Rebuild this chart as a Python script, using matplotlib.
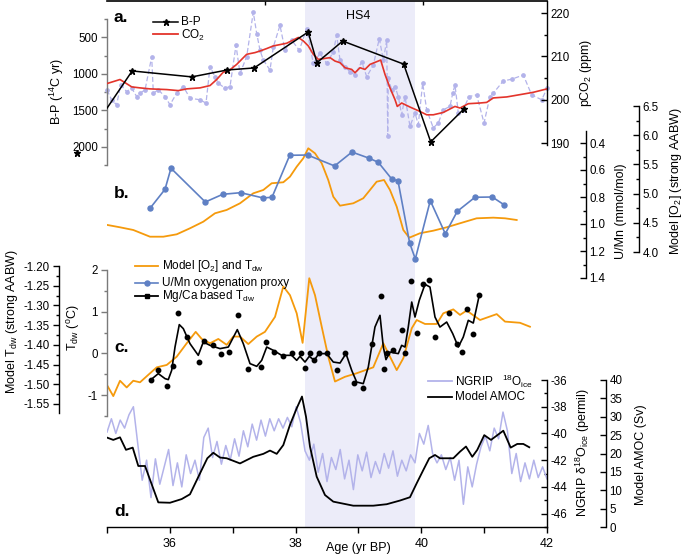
import matplotlib
matplotlib.use('Agg')
import matplotlib.pyplot as plt
from matplotlib.lines import Line2D

plt.rcParams['font.family'] = ['Liberation Sans', 'DejaVu Sans']
plt.rcParams['mathtext.fontset'] = 'custom'
plt.rcParams['mathtext.rm'] = 'Liberation Sans'
plt.rcParams['mathtext.it'] = 'Liberation Sans:italic'
plt.rcParams['mathtext.bf'] = 'Liberation Sans:bold'
plt.rcParams['axes.unicode_minus'] = False

# ---------------- data ----------------
# panel a: individual B-P measurements (light dashed), 14C yr
bp_raw_age = [35.0, 35.073, 35.153, 35.218, 35.313, 35.393, 35.472, 35.525, 35.605, 35.711, 35.737, 35.816,
              35.923, 36.002, 36.109, 36.214, 36.320, 36.480, 36.575, 36.639, 36.718, 36.771, 36.877, 36.957,
              37.052, 37.116, 37.222, 37.327, 37.382, 37.434, 37.487, 37.593, 37.646, 37.752, 37.832, 37.938,
              38.059, 38.177, 38.282, 38.388, 38.495, 38.600, 38.654, 38.707, 38.786, 38.866, 38.945, 39.052,
              39.132, 39.237, 39.332, 39.396, 39.450, 39.466, 39.475, 39.529, 39.582, 39.634, 39.688, 39.741,
              39.820, 39.900, 39.952, 40.022, 40.086, 40.191, 40.271, 40.350, 40.457, 40.500, 40.536, 40.589,
              40.668, 40.759, 40.881, 40.998, 41.093, 41.146, 41.305, 41.438, 41.623, 41.756, 41.916, 42.0]
bp_raw_val = [1221, 1357, 1425, 1153, 1244, 1198, 1312, 1266, 1221, 768, 1266, 1221,
              1312, 1425, 1266, 1176, 1334, 1357, 1402, 904, 1040, 1130, 1198, 1176,
              609, 994, 768, 156, 450, 677, 813, 949, 632, 337, 677, 541,
              677, 382, 858, 722, 858, 700, 473, 813, 904, 972, 1017, 836,
              1040, 881, 518, 813, 541, 1856, 1062, 1221, 1176, 1312, 1561, 1312,
              1720, 1538, 1697, 1130, 1493, 1742, 1674, 1493, 1448, 1266, 1153, 1538,
              1493, 1312, 1289, 1674, 1312, 1266, 1098, 1075, 1017, 1289, 1357, 1198]

# B-P (stars)
bp_age = [34.52, 35.40, 36.35, 36.91, 37.34, 38.20, 38.34, 38.75, 39.72, 40.15, 40.68]
bp_val = [2080, 963, 1044, 950, 922, 432, 850, 555, 870, 1930, 1480]

# CO2 (ppm)
co2_age = [35.0, 35.207, 35.393, 35.525, 35.684, 35.950, 36.134, 36.268, 36.480, 36.639, 36.745, 36.850,
           36.930, 37.063, 37.116, 37.222, 37.354, 37.434, 37.540, 37.646, 37.859, 38.043, 38.123, 38.202,
           38.282, 38.361, 38.548, 38.627, 38.707, 38.786, 38.893, 38.945, 39.025, 39.104, 39.184, 39.316,
           39.354, 39.423, 39.502, 39.582, 39.618, 39.688, 39.820, 39.979, 40.086, 40.191, 40.350, 40.536,
           40.616, 40.748, 40.934, 41.040, 41.146, 41.359, 41.570, 41.782, 42.0]
co2_val = [203.72, 204.65, 202.95, 202.72, 202.49, 202.33, 202.09, 202.49, 202.72, 203.26, 204.65, 206.35,
           206.58, 208.14, 208.91, 210.47, 210.86, 211.23, 211.79, 212.40, 213.02, 214.35, 213.56, 212.40,
           210.47, 209.30, 209.70, 208.91, 208.53, 207.37, 206.98, 206.21, 207.37, 206.98, 208.14, 208.91,
           209.14, 205.81, 202.72, 200.0, 198.44, 199.23, 198.30, 197.28, 196.51, 196.51, 197.05, 198.44,
           198.07, 199.07, 199.23, 199.37, 200.40, 200.63, 201.16, 201.70, 202.49]

# panel b: U/Mn (mmol/mol)
umn_age = [35.684, 35.923, 36.018, 36.564, 36.841, 37.127, 37.482, 37.625, 37.907, 38.191, 38.621, 38.897,
           39.172, 39.316, 39.534, 39.629, 39.815, 39.905, 40.143, 40.382, 40.573, 40.854, 41.130, 41.321]
umn_val = [0.884, 0.743, 0.587, 0.837, 0.780, 0.768, 0.807, 0.802, 0.491, 0.489, 0.570, 0.467,
           0.513, 0.543, 0.669, 0.679, 1.141, 1.259, 0.827, 1.072, 0.906, 0.802, 0.800, 0.859]

# model [O2] (strong AABW)
o2_age = [35.005, 35.207, 35.418, 35.684, 35.896, 36.109, 36.320, 36.532, 36.718, 36.904, 37.116, 37.327,
          37.487, 37.620, 37.805, 37.911, 38.018, 38.123, 38.202, 38.309, 38.416, 38.520, 38.600, 38.707,
          38.918, 39.077, 39.184, 39.290, 39.407, 39.502, 39.609, 39.714, 39.809, 39.979, 40.191, 40.404,
          40.616, 40.881, 41.146, 41.332, 41.518]
o2_val = [4.463, 4.423, 4.377, 4.262, 4.262, 4.303, 4.406, 4.519, 4.663, 4.720, 4.834, 5.005,
          5.062, 5.177, 5.194, 5.290, 5.461, 5.605, 5.776, 5.690, 5.519, 5.233, 4.947, 4.793,
          4.834, 4.920, 5.062, 5.204, 5.233, 5.062, 4.776, 4.377, 4.245, 4.321, 4.365, 4.423,
          4.492, 4.577, 4.588, 4.577, 4.548]

# panel c: model Tdw (strong AABW)
mt_age = [35.0, 35.10, 35.207, 35.313, 35.418, 35.525, 35.657, 35.791, 35.950, 36.109, 36.268, 36.411,
          36.507, 36.639, 36.771, 36.904, 37.009, 37.116, 37.248, 37.382, 37.513, 37.673, 37.805, 37.911,
          38.018, 38.112, 38.218, 38.309, 38.416, 38.520, 38.627, 38.786, 38.972, 39.236, 39.396, 39.502,
          39.609, 39.714, 39.848, 39.927, 40.059, 40.245, 40.350, 40.509, 40.616, 40.722, 40.934, 41.200,
          41.332, 41.570, 41.729]
mt_val = [-1.502, -1.530, -1.491, -1.508, -1.491, -1.495, -1.476, -1.457, -1.451, -1.430, -1.396, -1.367,
          -1.385, -1.396, -1.385, -1.400, -1.379, -1.379, -1.398, -1.379, -1.367, -1.329, -1.252, -1.274,
          -1.320, -1.395, -1.231, -1.274, -1.354, -1.430, -1.493, -1.481, -1.472, -1.457, -1.396, -1.430,
          -1.464, -1.434, -1.358, -1.337, -1.347, -1.347, -1.320, -1.310, -1.324, -1.313, -1.337, -1.322,
          -1.341, -1.344, -1.354]

# Mg/Ca based Tdw (points, degC)
mg_age = [35.700, 35.816, 35.950, 36.055, 36.134, 36.268, 36.468, 36.543, 36.682, 36.809, 36.946, 37.089,
          37.238, 37.450, 37.525, 37.657, 37.795, 37.938, 38.082, 38.150, 38.225, 38.298, 38.368, 38.505,
          38.654, 38.791, 38.929, 39.077, 39.221, 39.354, 39.407, 39.450, 39.555, 39.688, 39.741, 39.836,
          39.936, 40.032, 40.127, 40.218, 40.445, 40.573, 40.643, 40.732, 40.827, 40.923]
mg_val = [-0.648, -0.408, -0.792, -0.312, 0.977, 0.391, -0.216, 0.295, 0.192, -0.024, 0.031, 0.929,
          -0.367, -0.329, 0.271, 0.031, -0.065, 0.007, 0.007, -0.343, 0.007, -0.151, 0.007, 0.007,
          -0.391, 0.007, -0.713, -0.823, 0.216, 1.375, -0.377, 0.007, 0.072, 0.552, 0.007, 1.728,
          0.487, 1.656, 1.752, 0.391, 0.967, 0.216, 0.024, 1.063, 0.473, 1.399]

# Mg/Ca smoothed curve
mgs_age = [35.700, 35.816, 35.923, 35.975, 36.029, 36.082, 36.150, 36.214, 36.320, 36.452, 36.532, 36.639,
           36.798, 36.930, 37.073, 37.168, 37.275, 37.382, 37.461, 37.541, 37.646, 37.779, 37.938, 38.018,
           38.070, 38.150, 38.218, 38.298, 38.368, 38.495, 38.600, 38.707, 38.802, 38.893, 38.972, 39.077,
           39.157, 39.263, 39.343, 39.396, 39.438, 39.502, 39.634, 39.688, 39.741, 39.793, 39.848, 39.900,
           39.968, 40.059, 40.138, 40.218, 40.297, 40.404, 40.500, 40.589, 40.668, 40.748, 40.827, 40.923]
mgs_val = [-0.631, -0.487, -0.607, -0.631, -0.408, 0.151, 0.689, 0.593, 0.233, -0.048, 0.271, 0.192,
           0.113, 0.151, 0.569, 0.233, -0.247, -0.312, -0.168, 0.151, 0.072, -0.048, -0.048, -0.168,
           -0.072, -0.209, -0.072, -0.168, -0.007, -0.007, -0.209, -0.233, -0.007, -0.408, -0.689, -0.727,
           -0.329, 0.631, 0.912, 0.151, -0.151, 0.031, -0.007, 0.192, 0.151, 0.631, 1.231, 0.871,
           1.272, 1.656, 1.591, 0.871, 0.631, 0.751, 0.473, 0.151, 0.391, 0.792, 0.727, 1.399]

# panel d: NGRIP d18O (permil)
ng_age = [35.00, 35.07, 35.14, 35.21, 35.28, 35.35, 35.42, 35.49, 35.56, 35.63, 35.70, 35.77, 35.84, 35.91,
          35.98, 36.05, 36.12, 36.19, 36.26, 36.33, 36.40, 36.47, 36.54, 36.61, 36.68, 36.75, 36.82, 36.89,
          36.96, 37.03, 37.10, 37.17, 37.24, 37.31, 37.38, 37.45, 37.52, 37.59, 37.66, 37.73, 37.80, 37.87,
          37.94, 38.01, 38.08, 38.15, 38.22, 38.29, 38.36, 38.43, 38.50, 38.57, 38.64, 38.71, 38.78, 38.85,
          38.92, 38.99, 39.06, 39.13, 39.20, 39.27, 39.34, 39.41, 39.48, 39.55, 39.62, 39.69, 39.76, 39.83,
          39.90, 39.97, 40.04, 40.11, 40.18, 40.25, 40.32, 40.39, 40.46, 40.53, 40.60, 40.67, 40.74, 40.81,
          40.88, 40.95, 41.02, 41.09, 41.16, 41.23, 41.30, 41.37, 41.44, 41.51, 41.58, 41.65, 41.72, 41.79,
          41.86, 41.93, 42.00]
ng_val = [-39.9, -38.9, -40.0, -39.0, -39.6, -38.6, -38.0, -40.8, -43.5, -42.0, -44.8, -41.9, -43.8, -42.5,
          -41.2, -43.9, -42.2, -44.0, -41.6, -43.0, -42.0, -43.5, -40.3, -39.6, -41.8, -40.6, -42.3, -40.9,
          -42.0, -40.4, -41.7, -39.8, -41.0, -39.3, -40.5, -39.0, -40.2, -38.9, -39.8, -38.9, -39.6, -38.8,
          -39.5, -38.0, -39.2, -41.3, -42.0, -40.8, -42.9, -41.5, -43.6, -41.8, -42.7, -41.2, -43.4, -42.0,
          -44.2, -41.6, -42.8, -41.4, -43.3, -42.1, -43.0, -41.5, -42.6, -41.3, -43.2, -42.0, -42.8, -41.6,
          -42.2, -40.0, -40.8, -39.4, -41.5, -42.2, -41.6, -42.7, -41.8, -43.5, -42.0, -45.3, -42.5, -44.0,
          -42.3, -41.0, -40.2, -41.3, -39.6, -40.4, -38.4, -39.8, -43.0, -41.5, -43.6, -42.2, -43.4, -42.0,
          -43.3, -42.5, -43.4]

# Model AMOC (Sv)
amoc_age = [35.005, 35.10, 35.207, 35.302, 35.409, 35.498, 35.605, 35.816, 36.002, 36.188, 36.320, 36.480,
            36.596, 36.691, 36.798, 36.904, 37.116, 37.327, 37.487, 37.593, 37.700, 37.805, 37.911, 38.018,
            38.102, 38.166, 38.229, 38.336, 38.468, 38.600, 38.918, 39.236, 39.450, 39.661, 39.820, 39.927,
            40.032, 40.127, 40.218, 40.297, 40.509, 40.616, 40.711, 40.811, 40.891, 41.002, 41.109, 41.305,
            41.422, 41.527, 41.623, 41.718]
amoc_val = [24.3, 23.7, 24.4, 21.0, 21.6, 16.6, 16.6, 6.7, 6.6, 7.6, 8.9, 14.6,
            18.7, 20.2, 18.9, 18.7, 17.3, 19.1, 19.9, 20.8, 19.9, 22.3, 27.8, 32.3,
            35.5, 30.0, 21.9, 13.7, 8.7, 6.9, 5.8, 5.8, 6.2, 7.2, 8.1, 11.9,
            15.5, 18.7, 19.6, 18.7, 18.7, 20.5, 21.9, 19.1, 21.0, 25.0, 23.7, 26.2,
            21.6, 22.6, 22.6, 21.7]

hs4_span = (38.15, 39.9)
x_major = [36, 38, 40, 42]
x_minor = [35, 37, 39, 41]

# ---------------- colours ----------------
LAV = '#b3b3ea'
BAND = '#ececf9'
RED = '#e3342b'
ORANGE = '#f59a0c'
BLUE = '#5f80c4'
GREY = '#7a7a7a'

W, H = 685, 557
fig = plt.figure(figsize=(W / 100, H / 100), dpi=100)

X0, X1 = 107, 547


def fx(x):
    return x / W


def fy(y):
    return 1 - y / H


def add_ax(top, bottom):
    ax = fig.add_axes([fx(X0), fy(bottom), (X1 - X0) / W, (bottom - top) / H])
    ax.patch.set_alpha(0)
    ax.set_xlim(35, 42)
    for s in ax.spines.values():
        s.set_visible(False)
    ax.set_xticks([])
    ax.tick_params(axis='y', left=False, right=False, labelleft=False, labelright=False)
    return ax


def set_lim(ax, v1, p1, v2, p2, top, bottom):
    slope = (v2 - v1) / (p2 - p1)
    ax.set_ylim(v1 + (bottom - p1) * slope, v1 + (top - p1) * slope)


def spine(ax, side, pos, color, ticks, minor, fmt):
    sp = ax.spines[side]
    sp.set_visible(True)
    sp.set_color(color)
    sp.set_linewidth(1.0)
    sp.set_position(('axes', (pos - X0) / (X1 - X0)))
    if side == 'left':
        ax.yaxis.set_ticks_position('left')
        direction = 'out'
        ax.tick_params(axis='y', left=True, labelleft=True)
    else:
        ax.yaxis.set_ticks_position('right')
        direction = 'in'
        ax.tick_params(axis='y', right=True, labelright=True)
    ax.set_yticks(ticks)
    ax.set_yticklabels([fmt.format(t) for t in ticks])
    ax.set_yticks(minor, minor=True)
    ax.tick_params(axis='y', which='major', direction=direction, length=4, width=1.0,
                   color=color, labelsize=8.3, pad=2.5)
    ax.tick_params(axis='y', which='minor', direction=direction, length=2.5, width=1.0, color=color)


# ---------------- base axis (band + age axis) ----------------
base = fig.add_axes([fx(X0), fy(527), (X1 - X0) / W, 526 / H])
base.set_xlim(35, 42)
base.set_ylim(0, 1)
base.patch.set_alpha(0)
base.axvspan(*hs4_span, color=BAND, zorder=0, lw=0)
base.spines['left'].set_visible(False)
base.spines['right'].set_visible(False)
base.spines['top'].set_visible(False)
base.spines['bottom'].set_linewidth(1.0)
base.set_yticks([])
base.set_xticks(x_major)
base.set_xticklabels([str(v) for v in x_major])
base.set_xticks(x_minor, minor=True)
base.tick_params(axis='x', which='both', direction='out', length=4, width=1.0, labelsize=9, pad=4)
top = base.secondary_xaxis('top')
top.set_xticks([37.52, 40.02])
top.tick_params(direction='in', length=3, labeltop=False, width=1.0)
top.spines['top'].set_linewidth(1.2)
base.text(38.15 + (39.9 - 38.15) / 2 - 0.03, 0.972, 'HS4', ha='center', va='center', fontsize=9,
          transform=base.transData)

# ---------------- panel a ----------------
axBP = add_ax(19, 165)
set_lim(axBP, 500, 37, 2000, 147, 19, 165)
spine(axBP, 'left', 107, GREY, [500, 1000, 1500, 2000], list(range(250, 2251, 250)), '{:d}')
axBP.plot(bp_raw_age, bp_raw_val, color=LAV, lw=0.9, ls=(0, (4, 2)), marker='o', ms=2.4,
          clip_on=False)

axCO2 = add_ax(1, 145)
set_lim(axCO2, 220, 13, 190, 143, 1, 145)
spine(axCO2, 'right', 547, 'black', [190, 200, 210, 220], [195, 205, 215], '{:d}')
axCO2.plot(co2_age, co2_val, color=RED, lw=1.2)

axBP2 = add_ax(19, 165)
set_lim(axBP2, 500, 37, 2000, 147, 19, 165)
axBP2.plot(bp_age, bp_val, color='black', lw=1.1, marker='*', ms=4.5)
axBP2.plot(bp_age[:1], bp_val[:1], ls='none', color='black', marker='*', ms=4.5, clip_on=False)

# ---------------- panel b ----------------
axO2 = add_ax(106, 252)
set_lim(axO2, 6.5, 106, 4.0, 252, 106, 252)
spine(axO2, 'right', 639, 'black', [4.0, 4.5, 5.0, 5.5, 6.0, 6.5],
      [4.25, 4.75, 5.25, 5.75, 6.25], '{:.1f}')
axO2.plot(o2_age, o2_val, color=ORANGE, lw=1.3)

axUM = add_ax(131, 278)
set_lim(axUM, 0.4, 143, 1.4, 278, 131, 278)
spine(axUM, 'right', 586, 'black', [0.4, 0.6, 0.8, 1.0, 1.2, 1.4],
      [0.5, 0.7, 0.9, 1.1, 1.3], '{:.1f}')
axUM.plot(umn_age, umn_val, color=BLUE, lw=1.2, marker='o', ms=3.6)

# ---------------- panel c ----------------
axMT = add_ax(266, 413)
set_lim(axMT, -1.20, 266, -1.55, 404, 266, 413)
spine(axMT, 'left', 59, 'black', [-1.20, -1.25, -1.30, -1.35, -1.40, -1.45, -1.50, -1.55],
      [-1.225, -1.275, -1.325, -1.375, -1.425, -1.475, -1.525], '{:.2f}')
axMT.plot(mt_age, mt_val, color=ORANGE, lw=1.3)

axT = add_ax(270, 416)
set_lim(axT, 2, 270, -1, 395, 270, 416)
spine(axT, 'left', 107, GREY, [-1, 0, 1, 2], [-1.5, -0.5, 0.5, 1.5], '{:d}')
axT.plot(mgs_age, mgs_val, color='black', lw=1.2)
axT.plot(mg_age, mg_val, ls='none', marker='o', ms=3.2, color='black')

# ---------------- panel d ----------------
axNG = add_ax(380, 527)
set_lim(axNG, -36, 380, -46, 514, 380, 527)
spine(axNG, 'right', 547, 'black', [-46, -44, -42, -40, -38, -36],
      [-47, -45, -43, -41, -39, -37], '{:d}')
axNG.plot(ng_age, ng_val, color=LAV, lw=1.1)

axAM = add_ax(380, 527)
set_lim(axAM, 40, 380, 0, 527, 380, 527)
spine(axAM, 'right', 606, 'black', [0, 5, 10, 15, 20, 25, 30, 35, 40], [], '{:d}')
axAM.plot(amoc_age, amoc_val, color='black', lw=1.3)

# ---------------- texts ----------------
def ftext(x, y, s, **kw):
    kw.setdefault('fontsize', 9)
    fig.text(fx(x), fy(y), s, **kw)


def fline(x0, x1, y, color, lw=1.2, **kw):
    fig.add_artist(Line2D([fx(x0), fx(x1)], [fy(y), fy(y)], color=color, lw=lw,
                          transform=fig.transFigure, **kw))


for lab, yy in [('a.', 17), ('b.', 193), ('c.', 348), ('d.', 512)]:
    ftext(114, yy, lab, fontsize=12.5, fontweight='bold', va='center', ha='left')

ftext(358, 548, 'Age (yr BP)', ha='center', va='center', fontsize=9)

# legend a
fline(153, 178, 22, 'black', lw=1.1)
fig.add_artist(Line2D([fx(165.5)], [fy(22)], marker='*', ms=4.5, color='black',
                      transform=fig.transFigure))
ftext(181, 22, 'B-P', va='center', fontsize=8.5)
fline(153, 178, 34, RED, lw=1.3)
ftext(181, 35, 'CO$_2$', va='center', fontsize=8.5)

# legend b/c
fline(135, 158, 266, ORANGE, lw=1.3)
ftext(162, 266, 'Model [O$_2$] and T$_{\\rm dw}$', va='center', fontsize=8.5)
fline(135, 158, 283, BLUE, lw=1.2)
fig.add_artist(Line2D([fx(146.5)], [fy(283)], marker='o', ms=3.6, color=BLUE,
                      transform=fig.transFigure))
ftext(162, 283, 'U/Mn oxygenation proxy', va='center', fontsize=8.5)
fline(135, 158, 296, 'black', lw=1.3)
fig.add_artist(Line2D([fx(146.5)], [fy(296)], marker='s', ms=3.4, color='black',
                      transform=fig.transFigure))
ftext(162, 296, 'Mg/Ca based T$_{\\rm dw}$', va='center', fontsize=8.5)

# legend d
fline(428, 452, 381, LAV, lw=1.3)
ftext(455, 381, 'NGRIP   $^{18}$O$_{\\rm ice}$', va='center', fontsize=8.5)
fline(428, 452, 397, 'black', lw=1.3)
ftext(455, 397, 'Model AMOC', va='center', fontsize=8.5)

# y labels
ylab = dict(rotation=90, ha='center', va='center', fontsize=9)
ftext(57, 92, 'B-P ($^{14}$C yr)', **ylab)
ftext(586, 73, 'pCO$_2$ (ppm)', **ylab)
ftext(621, 211, 'U/Mn (mmol/mol)', **ylab)
ftext(676, 181, 'Model [O$_2$] (strong AABW)', **ylab)
ftext(12, 322, 'Model T$_{\\rm dw}$ (strong AABW)', **ylab)
ftext(74, 328, 'T$_{\\rm dw}$ ($^{\\rm o}$C)', **ylab)
ftext(583, 453, 'NGRIP δ$^{18}$O$_{\\rm ice}$ (permil)', **ylab)
ftext(641, 455, 'Model AMOC (Sv)', **ylab)

fig.savefig('out.png', dpi=100)
